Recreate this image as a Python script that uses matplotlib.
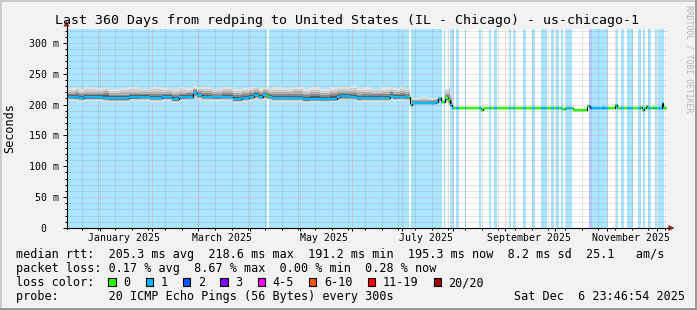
import numpy as np
import matplotlib
matplotlib.use('Agg')
import matplotlib.pyplot as plt
from matplotlib.patches import Rectangle, Polygon
from matplotlib.lines import Line2D
from datetime import datetime, timedelta

W, H = 697, 310
end_time = datetime(2025, 12, 6, 23, 46, 54)
start_time = end_time - timedelta(days=360)

# median rtt in ms, piecewise constant from each day (days since graph start)
med_day = [0.0, 4.8, 7.2, 10.2, 16.8, 21.6, 25.2, 31.8, 37.2, 43.8, 49.8, 57.0, 63.0,
           67.2, 71.4, 75.6, 78.0, 81.0, 87.0, 93.0, 99.6, 105.0, 109.2, 112.2, 115.2,
           117.6, 120.0, 121.2, 123.0, 129.6, 135.6, 141.6, 145.8, 151.8, 157.8, 162.0,
           163.8, 169.8, 174.0, 177.0, 183.0, 189.0, 193.8, 195.6, 199.8, 202.8, 205.8,
           207.0, 211.8, 216.6, 221.4, 222.6, 224.4, 226.8, 228.6, 229.8, 231.0, 235.8,
           248.4, 249.6, 265.8, 267.6, 297.0, 298.8, 303.6, 312.0, 313.8, 321.6, 322.2,
           328.8, 330.0, 343.8, 345.0, 346.2, 347.4, 348.0, 351.6, 352.2, 357.0, 357.6]
med_ms = [212.5, 212.0, 210.8, 211.8, 212.0, 211.5, 210.3, 210.0, 212.0, 212.5, 211.5, 212.0, 208.8,
          212.0, 213.0, 219.0, 215.0, 212.5, 212.0, 212.5, 208.8, 211.0, 213.0, 216.0, 213.0,
          215.0, 214.0, 213.0, 210.8, 211.0, 210.8, 208.7, 209.8, 209.5, 209.8, 212.0,
          213.6, 213.0, 210.0, 210.8, 211.0, 210.5, 214.6, 212.0, 212.5, 212.0, 199.0,
          203.5, 203.0, 203.5, 204.0, 210.0, 204.0, 210.0, 207.0, 200.0, 195.0, 194.8,
          191.5, 194.8, 195.3, 194.8, 192.5, 194.5, 191.6, 198.5, 195.2, 197.0, 195.2,
          199.5, 194.8, 197.0, 192.0, 195.0, 198.0, 194.2, 197.0, 194.5, 203.0, 195.3]
# smoke (spread of the 20 pings) lower / upper bound in ms
smoke_lo = [206, 206, 205, 206, 206, 205, 204, 204, 206, 206, 205, 206, 203,
            206, 207, 211, 208, 206, 206, 206, 203, 205, 206, 208, 206,
            207, 207, 206, 205, 205, 205, 203, 204, 204, 204, 206,
            207, 207, 205, 205, 205, 205, 208, 206, 206, 206, 197,
            201, 201, 201, 202, 204, 202, 205, 200, 196, 194, 194,
            191, 194, 194.5, 194, 192, 194, 191, 197, 194.5, 196, 194.5,
            198, 194, 196, 191.5, 194, 197, 193.5, 196, 194, 201, 194.5]
smoke_hi = [227, 229, 226, 228, 227, 229, 225, 227, 228, 226, 228, 227, 225,
            228, 227, 230, 229, 228, 226, 228, 225, 227, 228, 229, 227,
            229, 228, 226, 228, 227, 229, 226, 228, 226, 228, 229,
            228, 230, 227, 228, 226, 228, 229, 227, 228, 226, 202,
            211, 212, 211, 213, 214, 208, 226, 230, 220, 197, 196,
            193, 196, 196.5, 196, 194, 196, 193, 200, 196.5, 198, 196.5,
            201, 196, 198, 193, 196, 199, 195.5, 198, 196, 205, 196.5]

# periods with packet loss (days since graph start) and their loss colour index
loss_start = [0.0, 121.2, 206.8, 226.4, 230.1, 233.4, 238.8, 247.2, 253.4, 256.2, 265.2,
              267.8, 273.8, 279.4, 284.4, 290.8, 293.7, 296.4, 299.4, 313.4, 315.0, 329.7,
              332.8, 336.0, 342.8, 345.8, 348.8, 353.1, 354.9]
loss_end = [120.0, 205.4, 225.2, 227.2, 232.5, 235.2, 239.8, 248.4, 254.8, 258.2, 266.4,
            269.2, 275.8, 281.1, 288.0, 292.2, 295.2, 297.6, 303.3, 315.0, 324.8, 330.9,
            334.2, 339.8, 344.4, 347.0, 350.8, 354.0, 358.2]
loss_level = [1] * 19 + [2] + [1] * 9

loss_colors = ['#26ff00', '#00b8ff', '#0059ff', '#7e00ff', '#ff00ff', '#ff5500', '#ff0000', '#a00000']
loss_labels = ['0', '1', '2', '3', '4-5', '6-10', '11-19', '20/20']
loss_bg = {1: '#aae6ff', 2: '#b2c9ff'}

rtt_avg, rtt_max, rtt_min, rtt_now, rtt_sd, rtt_ams = 205.3, 218.6, 191.2, 195.3, 8.2, 25.1
loss_avg, loss_max, loss_min, loss_now = 0.17, 8.67, 0.00, 0.28

label_months = [1, 3, 5, 7, 9, 11]


def day_of(t):
    return (t - start_time).total_seconds() / 86400.0


mono = 'DejaVu Sans Mono'
plt.rcParams['font.family'] = mono
cw = 0.6021 * 8.5 / 72 * 100  # legend character width in px

fig = plt.figure(figsize=(W / 100, H / 100), dpi=100, facecolor='#f2f2f2')


def fx(x):
    return x / W


def fy(y):
    return 1 - y / H


ax_left, ax_top, ax_bot, ax_w = 66.5, 29.0, 228.0, 600.0
ax = fig.add_axes([fx(ax_left), fy(ax_bot), ax_w / W, (ax_bot - ax_top) / H])
ax.set_facecolor('white')
ax.set_xlim(0, 360)
ax.set_ylim(0, (ax_bot - ax_top) / 0.6167)
for s in ax.spines.values():
    s.set_visible(False)

# loss backgrounds
for s, e, lv in zip(loss_start, loss_end, loss_level):
    ax.axvspan(s, e, color=loss_bg[lv], lw=0, zorder=1)

# grid
month_days = [day_of(datetime(2025, m, 1)) for m in range(1, 13)]
minor_days = [day_of(datetime(2024, 12, 21) + timedelta(days=10 * k)) for k in range(36)]
minor_days = [d for d in minor_days if 0 < d < 360]
xt = ax.get_xaxis_transform()
yt = ax.get_yaxis_transform()
gkw = dict(linewidth=0.72, linestyles=(0, (1, 1)), zorder=2)
gray_grid = [(0.5, 0.5, 0.5, 0.42)]
red_grid = [(1.0, 0.45, 0.45, 0.45)]
ax.vlines(minor_days, 0, 1, transform=xt, colors=gray_grid, **gkw)
ax.hlines([v for v in range(10, 330, 10) if v % 50], 0, 1, transform=yt, colors=gray_grid, **gkw)
ax.vlines(month_days, 0, 1, transform=xt, colors=red_grid, **gkw)
ax.hlines(list(range(50, 330, 50)), 0, 1, transform=yt, colors=red_grid, **gkw)

# smoke
sd = np.array(med_day + [360.0])
md = np.array(med_ms + [med_ms[-1]])
lo = np.array(smoke_lo + [smoke_lo[-1]])
hi = np.array(smoke_hi + [smoke_hi[-1]])
fracs = [1.0, 0.8, 0.58, 0.38, 0.2]
grays = ['#e2e2e2', '#cdcdcd', '#b0b0b0', '#888888', '#565656']
for f, g in zip(fracs, grays):
    ax.fill_between(sd, md - (md - lo) * f, md + (hi - md) * f, step='post',
                    color=g, lw=0, zorder=3)

# median line: black transitions, loss coloured levels
ax.step(sd, md, where='post', color='black', lw=0.9, zorder=4)


def loss_at(d):
    for s, e, lv in zip(loss_start, loss_end, loss_level):
        if s <= d < e:
            return lv
    return 0


edges = sorted(set(med_day + loss_start + loss_end + [360.0]))
seg_v, seg_a, seg_b, seg_c = [], [], [], []
for a, b in zip(edges[:-1], edges[1:]):
    i = np.searchsorted(med_day, a, side='right') - 1
    seg_v.append(med_ms[i])
    seg_a.append(a)
    seg_b.append(b)
    seg_c.append(loss_colors[loss_at((a + b) / 2)])
ax.hlines(seg_v, seg_a, seg_b, colors=seg_c, linewidth=1.7, zorder=5, capstyle='butt')

# ticks
ax.set_yticks(range(0, 301, 50))
ax.set_yticklabels(['0  '] + ['%d m' % v for v in range(50, 301, 50)], fontsize=7.1)
ax.set_yticks([v for v in range(10, 321, 10) if v % 50], minor=True)
ax.set_xticks(month_days)
ax.set_xticklabels([])
ax.set_xticks(minor_days, minor=True)
ax.tick_params(axis='y', which='major', direction='out', length=2.9, width=0.72, pad=2.6, colors='black')
ax.tick_params(axis='y', which='minor', direction='out', length=1.5, width=0.72, colors='black')
ax.tick_params(axis='x', which='major', direction='out', length=2.2, width=0.72, colors='black')
ax.tick_params(axis='x', which='minor', direction='out', length=1.5, width=0.72, colors='black')

for m in label_months:
    d = day_of(datetime(2025, m, 15, 12))
    ax.text(d, -(238 - ax_bot) / (ax_bot - ax_top), datetime(2025, m, 1).strftime('%B %Y'),
            transform=xt, ha='center', va='center', fontsize=7.1)

# axes lines and arrows
fig.add_artist(Line2D([fx(ax_left), fx(ax_left)], [fy(ax_bot + 0.5), fy(26)], color='black', lw=0.8))
fig.add_artist(Line2D([fx(ax_left), fx(669)], [fy(ax_bot), fy(ax_bot)], color='black', lw=0.8))
arrow_col = '#8b1a1a'
fig.add_artist(Polygon([(fx(ax_left), fy(20.5)), (fx(ax_left - 3), fy(26.5)), (fx(ax_left + 3), fy(26.5))],
                       closed=True, color=arrow_col, lw=0, transform=fig.transFigure))
fig.add_artist(Polygon([(fx(674.5), fy(ax_bot)), (fx(668.5), fy(ax_bot - 3)), (fx(668.5), fy(ax_bot + 3))],
                       closed=True, color=arrow_col, lw=0, transform=fig.transFigure))

# texts
fig.text(fx(347), fy(24), 'Last 360 Days from redping to United States (IL - Chicago) - us-chicago-1',
         ha='center', va='baseline', fontsize=9.5)
fig.text(fx(10), fy(128), 'Seconds', rotation=90, ha='center', va='center', fontsize=8.5)
fig.text(fx(688.5), fy(5), 'RRDTOOL / TOBI OETIKER', rotation=270, ha='center', va='top',
         fontsize=5.9, color='#b4b4b4')

line1 = ('median rtt:  %.1f ms avg  %.1f ms max  %.1f ms min  %.1f ms now  %.1f ms sd  %.1f   am/s'
         % (rtt_avg, rtt_max, rtt_min, rtt_now, rtt_sd, rtt_ams))
line2 = ('packet loss: %.2f %% avg  %.2f %% max  %.2f %% min  %.2f %% now'
         % (loss_avg, loss_max, loss_min, loss_now))
line4 = 'probe:       20 ICMP Echo Pings (56 Bytes) every 300s'
fig.text(fx(16), fy(258), line1, ha='left', va='baseline', fontsize=8.5)
fig.text(fx(16), fy(272), line2, ha='left', va='baseline', fontsize=8.5)
fig.text(fx(16), fy(286), 'loss color:', ha='left', va='baseline', fontsize=8.5)
fig.text(fx(16), fy(300), line4, ha='left', va='baseline', fontsize=8.5)
fig.text(fx(16 + 70 * cw), fy(300), end_time.strftime('%a %b ') + '%2d' % end_time.day
         + end_time.strftime(' %H:%M:%S %Y'), ha='left', va='baseline', fontsize=8.5)

x = 108.3
for col, lab in zip(loss_colors, loss_labels):
    fig.add_artist(Rectangle((fx(x), fy(286)), 7.3 / W, 8.2 / H, facecolor=col, edgecolor='black',
                             lw=0.8, transform=fig.transFigure))
    lx = x + 15
    fig.text(fx(lx), fy(286), lab, ha='left', va='baseline', fontsize=8.5)
    x = lx + (len(lab) + 2) * cw + 1

# frame shading
fig.add_artist(Rectangle((0, fy(2)), 1, 2 / H, color='#cbcbcb', lw=0, transform=fig.transFigure))
fig.add_artist(Rectangle((0, 0), 2 / W, 1, color='#cbcbcb', lw=0, transform=fig.transFigure))
fig.add_artist(Rectangle((0, 0), 1, 2 / H, color='#999999', lw=0, transform=fig.transFigure))
fig.add_artist(Rectangle((1 - 2 / W, 0), 2 / W, 1, color='#999999', lw=0, transform=fig.transFigure))

fig.savefig('out.png', dpi=100, facecolor=fig.get_facecolor())
